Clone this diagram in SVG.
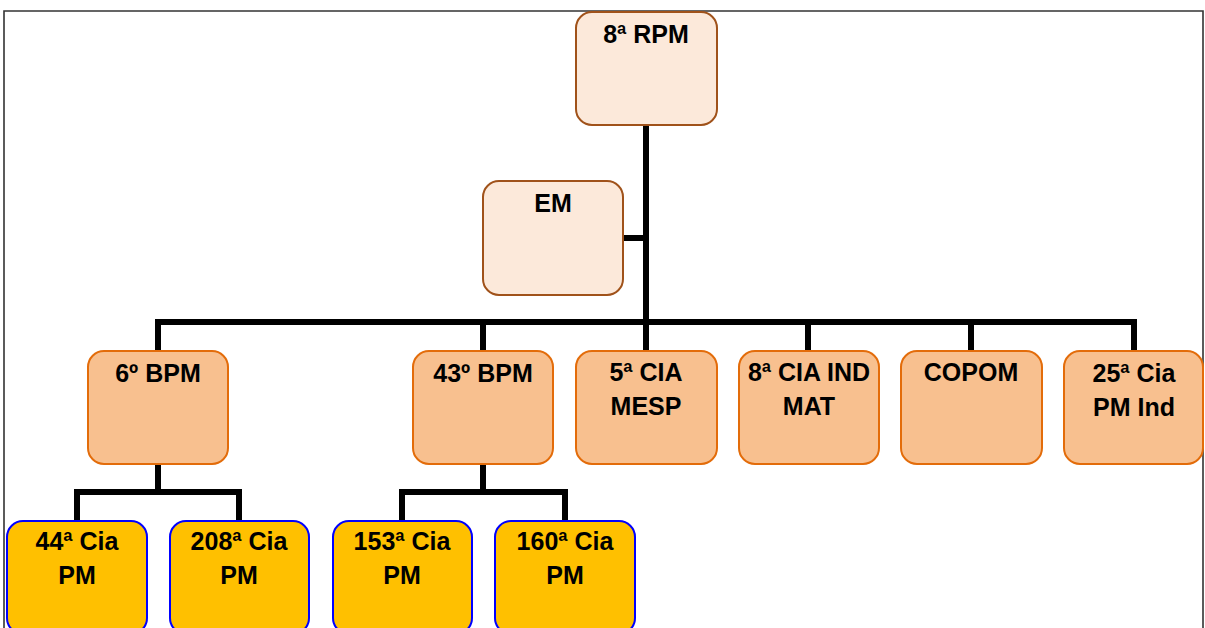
<svg xmlns="http://www.w3.org/2000/svg" width="1205" height="628" viewBox="0 0 1205 628">
<style>
.frame{fill:none;stroke:#333;stroke-width:1.6}
.top{fill:#FCE9DA;stroke:#A0521A;stroke-width:2}
.mid{fill:#F8C08F;stroke:#E36C0A;stroke-width:2}
.low{fill:#FFC000;stroke:#0000FF;stroke-width:2}
.c{fill:none;stroke:#000;stroke-width:6}
text{font-family:"Liberation Sans",Arial,sans-serif;font-weight:bold;font-size:25px;fill:#000;text-anchor:middle}
</style>
<rect width="1205" height="628" fill="#fff"/>
<path class="frame" d="M4,640 V11 H1203 V640"/>
<g id="connectors">
<path class="c" d="M646,125 V322"/>
<path class="c" d="M623,238 H646"/>
<path class="c" d="M158,351 V322 H1134 V351"/>
<path class="c" d="M483,322 V351"/>
<path class="c" d="M646,322 V351"/>
<path class="c" d="M808,322 V351"/>
<path class="c" d="M971,322 V351"/>
<path class="c" d="M158,464 V492"/>
<path class="c" d="M77,521 V492 H239 V521"/>
<path class="c" d="M483,464 V492"/>
<path class="c" d="M402,521 V492 H565 V521"/>
</g>
<g id="n-8rpm"><rect class="top" x="576" y="12" width="141" height="113" rx="16"/><text x="646" y="43">8ª RPM</text></g>
<g id="n-em"><rect class="top" x="483" y="181" width="140" height="114" rx="16"/><text x="553" y="212">EM</text></g>
<g id="n-6bpm"><rect class="mid" x="88" y="351" width="140" height="113" rx="16"/><text x="158" y="382">6º BPM</text></g>
<g id="n-43bpm"><rect class="mid" x="413" y="351" width="140" height="113" rx="16"/><text x="483" y="382">43º BPM</text></g>
<g id="n-5cia"><rect class="mid" x="576" y="351" width="141" height="113" rx="16"/><text x="646" y="381">5ª CIA</text><text x="646" y="415">MESP</text></g>
<g id="n-8cia"><rect class="mid" x="739" y="351" width="140" height="113" rx="16"/><text x="809" y="381">8ª CIA IND</text><text x="809" y="415">MAT</text></g>
<g id="n-copom"><rect class="mid" x="901" y="351" width="141" height="113" rx="16"/><text x="971" y="381">COPOM</text></g>
<g id="n-25cia"><rect class="mid" x="1064" y="351" width="139" height="113" rx="16"/><text x="1134" y="382">25ª Cia</text><text x="1134" y="416">PM Ind</text></g>
<g id="n-44cia"><rect class="low" x="7" y="521" width="140" height="113" rx="16"/><text x="77" y="550">44ª Cia</text><text x="77" y="584">PM</text></g>
<g id="n-208cia"><rect class="low" x="170" y="521" width="139" height="113" rx="16"/><text x="239" y="550">208ª Cia</text><text x="239" y="584">PM</text></g>
<g id="n-153cia"><rect class="low" x="333" y="521" width="139" height="113" rx="16"/><text x="402" y="550">153ª Cia</text><text x="402" y="584">PM</text></g>
<g id="n-160cia"><rect class="low" x="495" y="521" width="140" height="113" rx="16"/><text x="565" y="550">160ª Cia</text><text x="565" y="584">PM</text></g>
</svg>
